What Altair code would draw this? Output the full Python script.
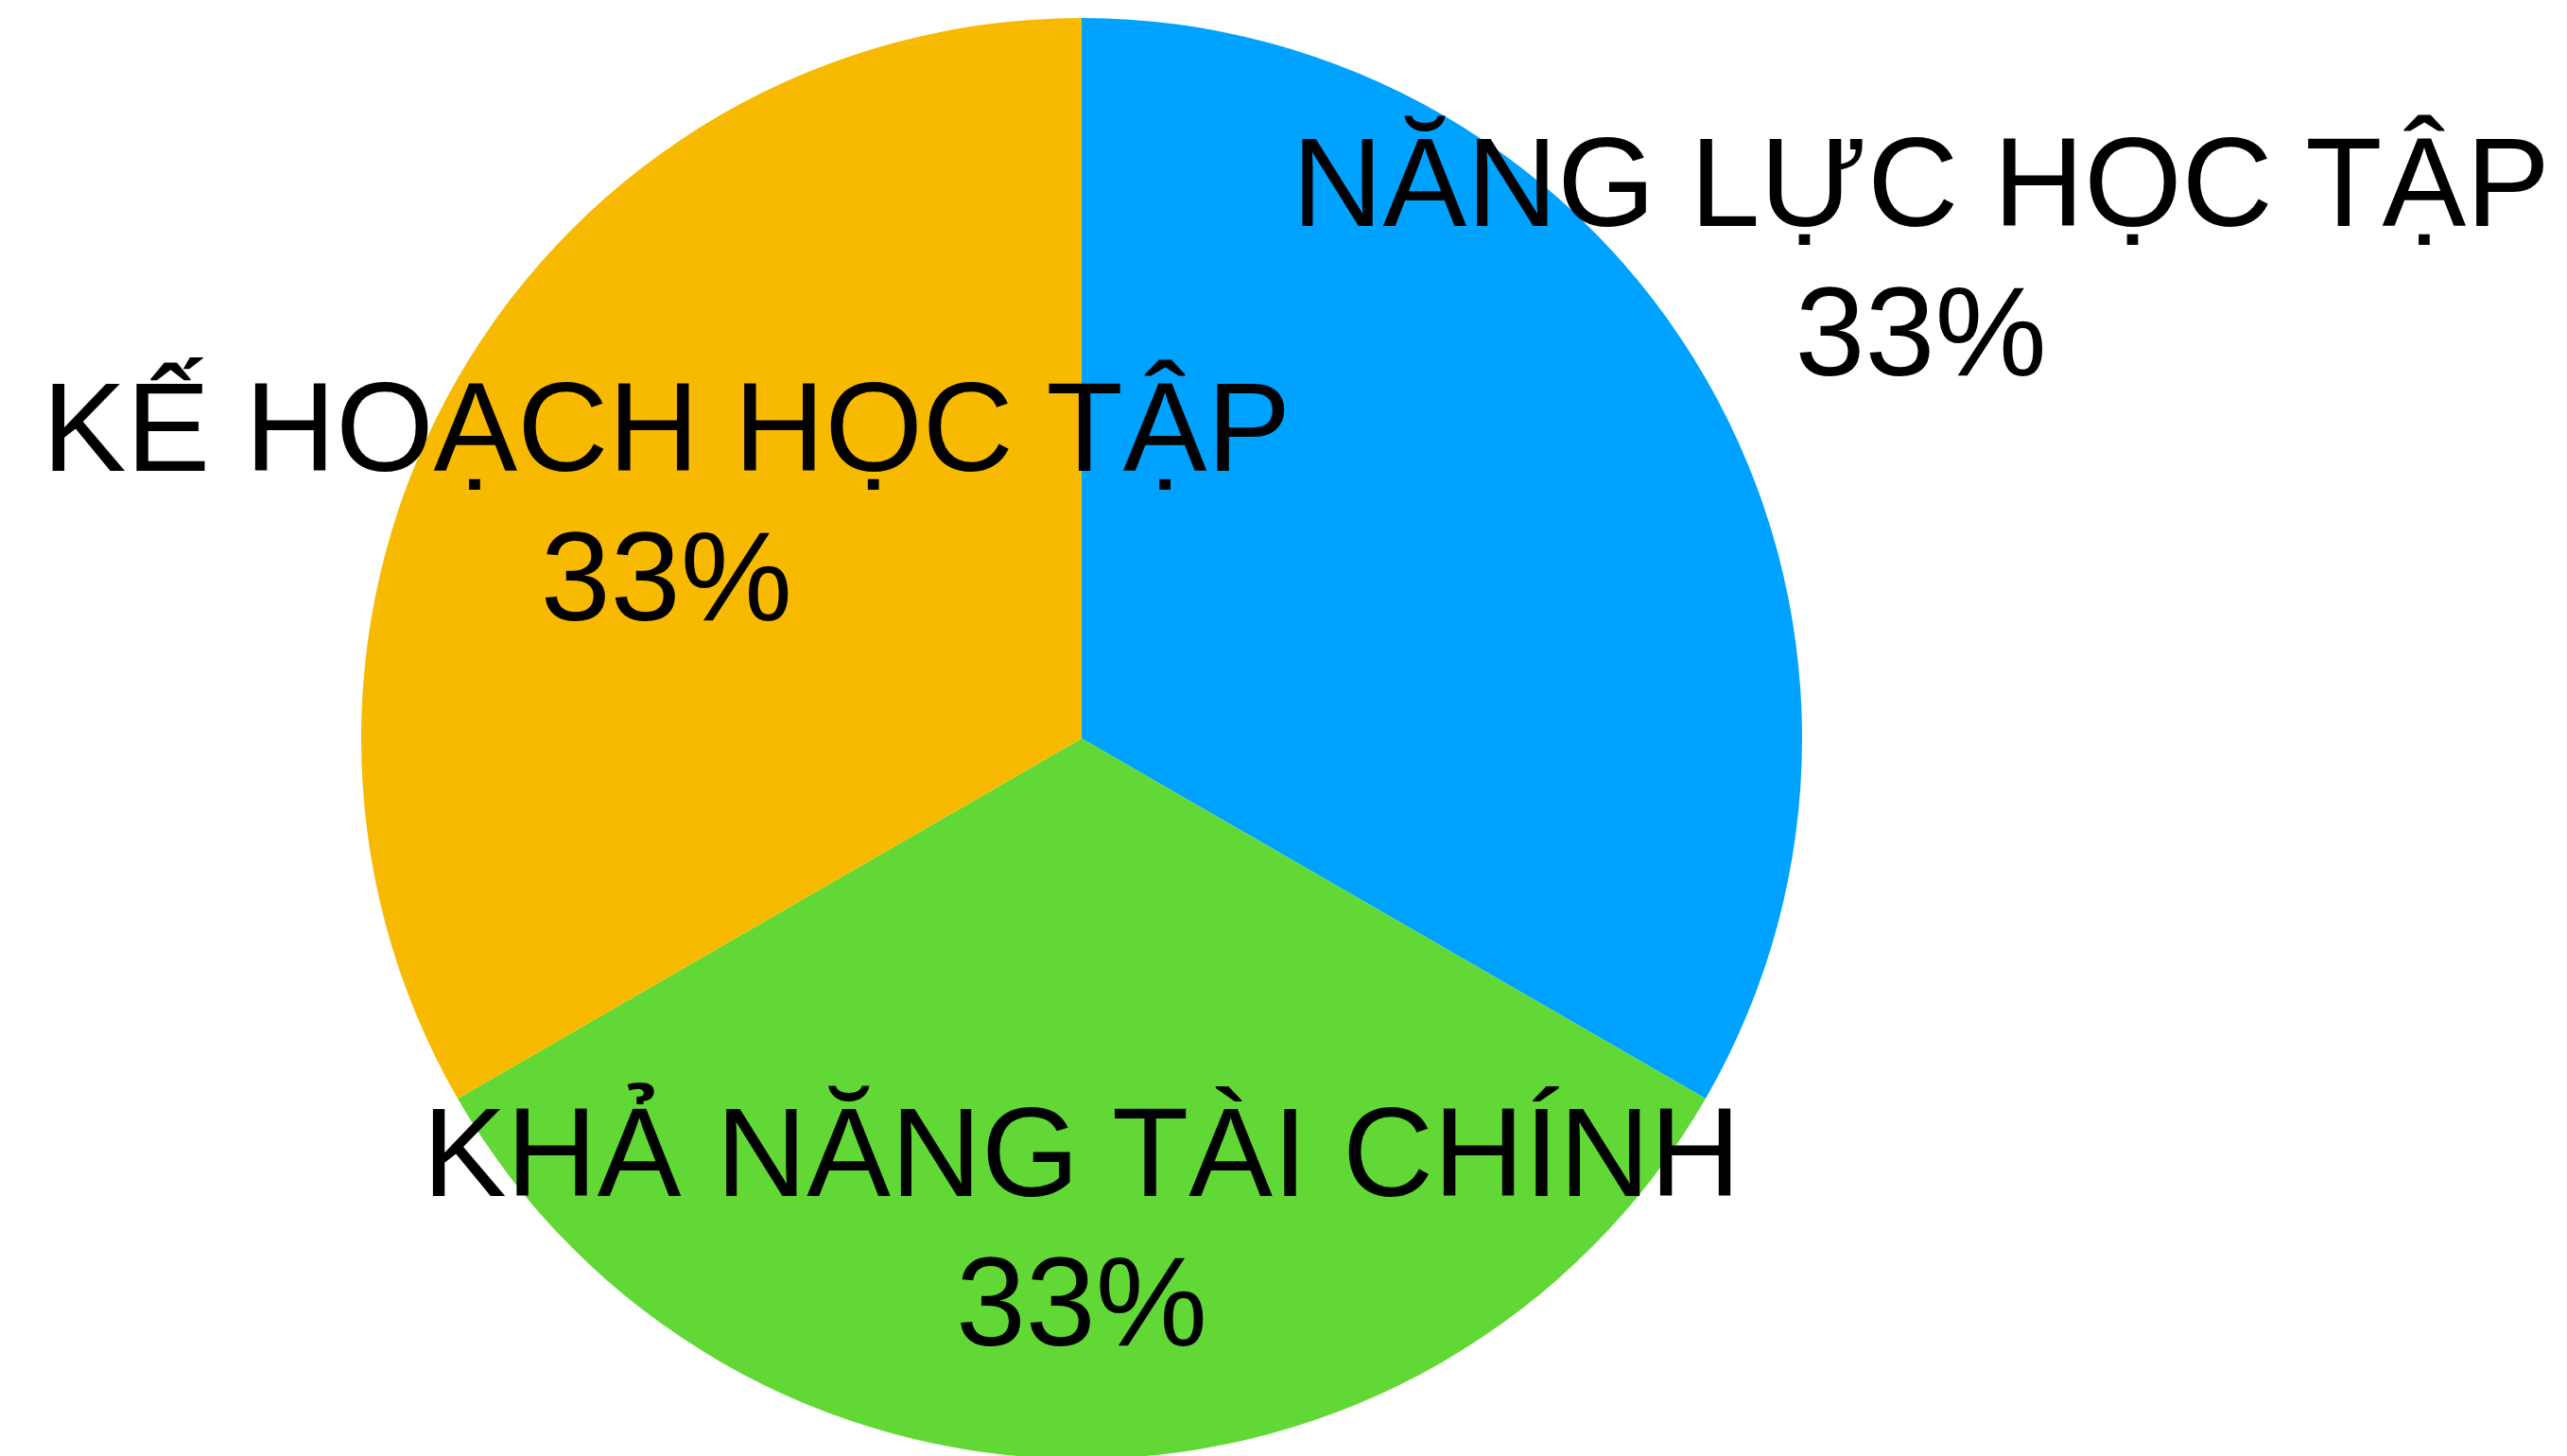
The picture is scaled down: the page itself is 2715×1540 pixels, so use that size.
import altair as alt
import pandas as pd
import math

categories = ["NĂNG LỰC HỌC TẬP", "KHẢ NĂNG TÀI CHÍNH", "KẾ HOẠCH HỌC TẬP"]
shares = [1, 1, 1]
percent_labels = [33, 33, 33]
colors = ["#00A2FF", "#61D836", "#F8BA00"]
label_radius = [1025, 514, 507]

df = pd.DataFrame({
    "category": categories,
    "share": shares,
    "pct": percent_labels,
    "order": list(range(len(categories))),
    "lr": label_radius,
})
df["label"] = [f"{c}\n{p}%" for c, p in zip(df["category"], df["pct"])]
total = float(sum(shares))

pie = alt.Chart(df).mark_arc(outerRadius=762, stroke=None).encode(
    theta=alt.Theta("share:Q", stack=True),
    order=alt.Order("order:Q"),
    color=alt.Color("category:N", scale=alt.Scale(domain=categories, range=colors), legend=None),
)

labels = alt.Chart(df).transform_window(
    cum="sum(share)", sort=[alt.SortField("order")]
).transform_calculate(
    mid="datum.cum - datum.share / 2"
).mark_text(
    font="Liberation Sans",
    fontSize=133,
    lineHeight=158,
    lineBreak="\n",
    align="center",
    baseline="middle",
    dy=-70,
    color="black",
).encode(
    theta=alt.Theta("mid:Q", stack=None, scale=alt.Scale(domain=[0, total], range=[0, 2 * math.pi])),
    radius=alt.Radius("lr:Q", scale=None),
    text="label:N",
)

chart = (pie + labels).properties(
    width=2288,
    height=1518,
    padding={"left": 0, "top": 22, "right": 427, "bottom": 0},
    autosize=alt.AutoSizeParams(type="none"),
).configure_view(stroke=None).configure(background="white")

chart.save("out.html", embed_options={"renderer": "svg", "actions": False})
